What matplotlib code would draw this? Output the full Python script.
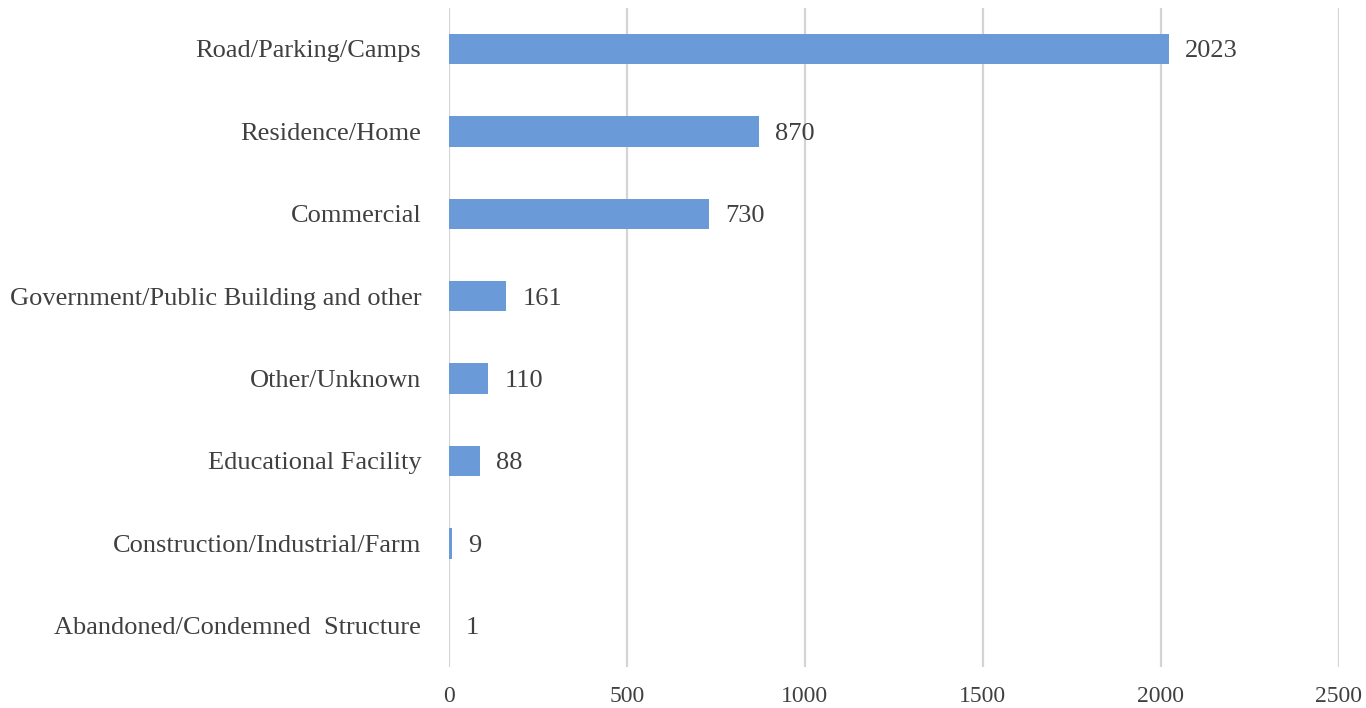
import matplotlib.pyplot as plt

categories = ["Road/Parking/Camps", "Residence/Home", "Commercial",
              "Government/Public Building and other", "Other/Unknown",
              "Educational Facility", "Construction/Industrial/Farm",
              "Abandoned/Condemned  Structure"]
counts = [2023, 870, 730, 161, 110, 88, 9, 1]
xticks = [0, 500, 1000, 1500, 2000, 2500]

plt.rcParams['font.family'] = ['Liberation Serif', 'DejaVu Serif']
text_col = "#404040"

fig = plt.figure(figsize=(13.66, 7.08), dpi=100)
ax = fig.add_axes([0.3287, 0.058, 0.6515, 0.931])

ypos = list(range(len(categories)))[::-1]
ax.barh(ypos, counts, height=0.37, color="#6a9bd8", zorder=3)
for y, v in zip(ypos, counts):
    ax.text(v + 45, y, str(v), va="center_baseline", ha="left", fontsize=19, color=text_col)

ax.set_xlim(0, 2500)
ax.set_ylim(-0.5, 7.5)
ax.set_xticks(xticks)
ax.set_xticklabels([str(t) for t in xticks])
ax.set_yticks(ypos)
ax.set_yticklabels(categories)
ax.tick_params(axis="both", length=0, colors=text_col)
ax.tick_params(axis="y", pad=20, labelsize=19)
ax.tick_params(axis="x", pad=14, labelsize=17)
for lab in ax.get_yticklabels():
    lab.set_verticalalignment("center_baseline")
ax.grid(axis="x", color="#d4d4d4", linewidth=1.6, zorder=0)
for s in ax.spines.values():
    s.set_visible(False)

fig.savefig("out.png", dpi=100)
